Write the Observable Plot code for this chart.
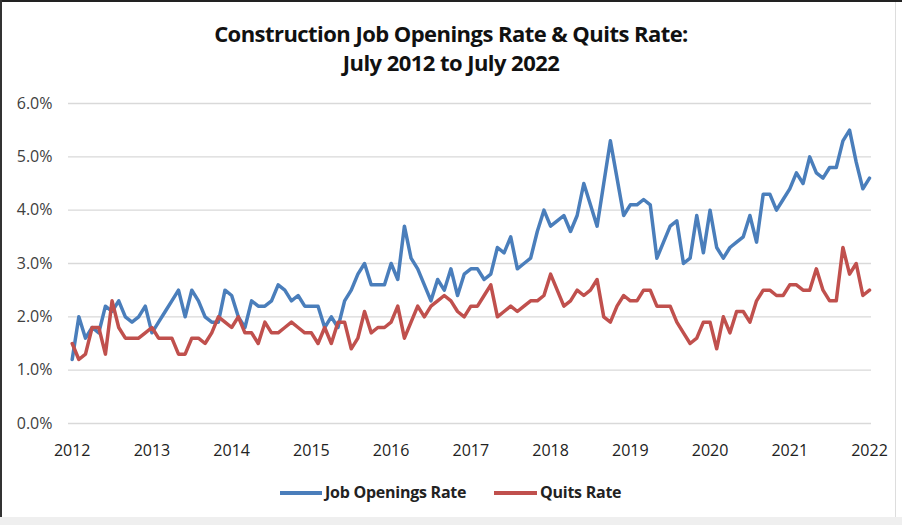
<!DOCTYPE html>
<html>
<head>
<meta charset="utf-8">
<script src="https://cdn.jsdelivr.net/npm/d3@7"></script>
<script src="https://cdn.jsdelivr.net/npm/@observablehq/plot@0.6"></script>
<style>
  html, body { margin: 0; padding: 0; background: #fff; }
  #frame { position: relative; width: 902px; height: 525px; overflow: hidden; background: #fff; font-family: "Open Sans", sans-serif; }
  .title { position: absolute; left: 0; width: 902px; text-align: center; font-weight: 700; font-size: 22px; color: #111; letter-spacing: -0.55px; line-height: 28px; }
  #chart { position: absolute; left: 0; top: 90px; }
  #legend { position: absolute; left: 0; top: 480px; width: 902px; height: 24px; }
  .sw { position: absolute; height: 3.5px; top: 11px; }
  .lt { position: absolute; top: 0; font-weight: 700; font-size: 16px; color: #222; line-height: 24px; letter-spacing: -0.25px; }
</style>
</head>
<body>
<div id="frame">
  <div style="position:absolute;left:0;top:0;width:902px;height:2px;background:#222"></div>
  <div style="position:absolute;left:0;top:0;width:2px;height:525px;background:#333"></div>
  <div style="position:absolute;left:895px;top:2px;width:1px;height:515px;background:#ddd"></div>
  <div style="position:absolute;left:0;top:517px;width:902px;height:8px;background:#efefef"></div>
  <div class="title" style="top:19px">Construction Job Openings Rate &amp; Quits Rate:</div>
  <div class="title" style="top:48px">July 2012 to July 2022</div>
  <div id="chart"></div>
  <div id="legend">
    <div class="sw" style="left:280px;width:42px;background:#4a7ebb"></div>
    <div class="lt" style="left:325px">Job Openings Rate</div>
    <div class="sw" style="left:494px;width:43px;background:#c0504d"></div>
    <div class="lt" style="left:540px">Quits Rate</div>
  </div>
</div>
<script>
// Monthly values, July 2012 .. July 2022 (percent)
const jobOpeningsRate = [
  1.2, 2.0, 1.6, 1.8, 1.7, 2.2, 2.1, 2.3, 2.0, 1.9, 2.0, 2.2,
  1.7, 1.9, 2.1, 2.3, 2.5, 2.0, 2.5, 2.3, 2.0, 1.9, 1.9, 2.5,
  2.4, 2.0, 1.8, 2.3, 2.2, 2.2, 2.3, 2.6, 2.5, 2.3, 2.4, 2.2,
  2.2, 2.2, 1.8, 2.0, 1.8, 2.3, 2.5, 2.8, 3.0, 2.6, 2.6, 2.6,
  3.0, 2.7, 3.7, 3.1, 2.9, 2.6, 2.3, 2.7, 2.5, 2.9, 2.4, 2.8,
  2.9, 2.9, 2.7, 2.8, 3.3, 3.2, 3.5, 2.9, 3.0, 3.1, 3.6, 4.0,
  3.7, 3.8, 3.9, 3.6, 3.9, 4.5, 4.1, 3.7, 4.5, 5.3, 4.6, 3.9,
  4.1, 4.1, 4.2, 4.1, 3.1, 3.4, 3.7, 3.8, 3.0, 3.1, 3.9, 3.2,
  4.0, 3.3, 3.1, 3.3, 3.4, 3.5, 3.9, 3.4, 4.3, 4.3, 4.0, 4.2,
  4.4, 4.7, 4.5, 5.0, 4.7, 4.6, 4.8, 4.8, 5.3, 5.5, 4.9, 4.4,
  4.6
];
const quitsRate = [
  1.5, 1.2, 1.3, 1.8, 1.8, 1.3, 2.3, 1.8, 1.6, 1.6, 1.6, 1.7,
  1.8, 1.6, 1.6, 1.6, 1.3, 1.3, 1.6, 1.6, 1.5, 1.7, 2.0, 1.9,
  1.8, 2.0, 1.7, 1.7, 1.5, 1.9, 1.7, 1.7, 1.8, 1.9, 1.8, 1.7,
  1.7, 1.5, 1.8, 1.5, 1.9, 1.9, 1.4, 1.6, 2.1, 1.7, 1.8, 1.8,
  1.9, 2.2, 1.6, 1.9, 2.2, 2.0, 2.2, 2.3, 2.4, 2.3, 2.1, 2.0,
  2.2, 2.2, 2.4, 2.6, 2.0, 2.1, 2.2, 2.1, 2.2, 2.3, 2.3, 2.4,
  2.8, 2.5, 2.2, 2.3, 2.5, 2.4, 2.5, 2.7, 2.0, 1.9, 2.2, 2.4,
  2.3, 2.3, 2.5, 2.5, 2.2, 2.2, 2.2, 1.9, 1.7, 1.5, 1.6, 1.9,
  1.9, 1.4, 2.0, 1.7, 2.1, 2.1, 1.9, 2.3, 2.5, 2.5, 2.4, 2.4,
  2.6, 2.6, 2.5, 2.5, 2.9, 2.5, 2.3, 2.3, 3.3, 2.8, 3.0, 2.4,
  2.5
];
const tickLabels = ["2012","2013","2014","2015","2016","2017","2018","2019","2020","2021","2022"];
const yTicks = [0, 1, 2, 3, 4, 5, 6];

const jobData = jobOpeningsRate.map((v, i) => ({i, v}));
const quitData = quitsRate.map((v, i) => ({i, v}));
const xTicks = tickLabels.map((_, k) => k * 12);

const chart = Plot.plot({
  width: 902,
  height: 375,
  marginLeft: 68,
  marginRight: 31,
  marginTop: 13,
  marginBottom: 42,
  style: {fontFamily: "Open Sans, sans-serif", fontSize: "16px", color: "#404040", background: "transparent"},
  x: {domain: [0, 120], insetLeft: 3.7, insetRight: 2},
  y: {domain: [0, 6]},
  marks: [
    Plot.gridY(yTicks, {stroke: "#d9d9d9", strokeOpacity: 1, strokeWidth: 1.3}),
    Plot.axisY(yTicks, {tickSize: 0, tickPadding: 16, tickFormat: d => d.toFixed(1) + "%", label: null, fill: "#404040"}),
    Plot.axisX(xTicks, {tickSize: 0, tickPadding: 21, tickFormat: d => tickLabels[d / 12], label: null, fill: "#222"}),
    Plot.line(jobData, {x: "i", y: "v", stroke: "#4a7ebb", strokeWidth: 3.5, strokeLinejoin: "round"}),
    Plot.line(quitData, {x: "i", y: "v", stroke: "#c0504d", strokeWidth: 3.5, strokeLinejoin: "round"})
  ]
});
document.getElementById("chart").appendChild(chart);
</script>
</body>
</html>
